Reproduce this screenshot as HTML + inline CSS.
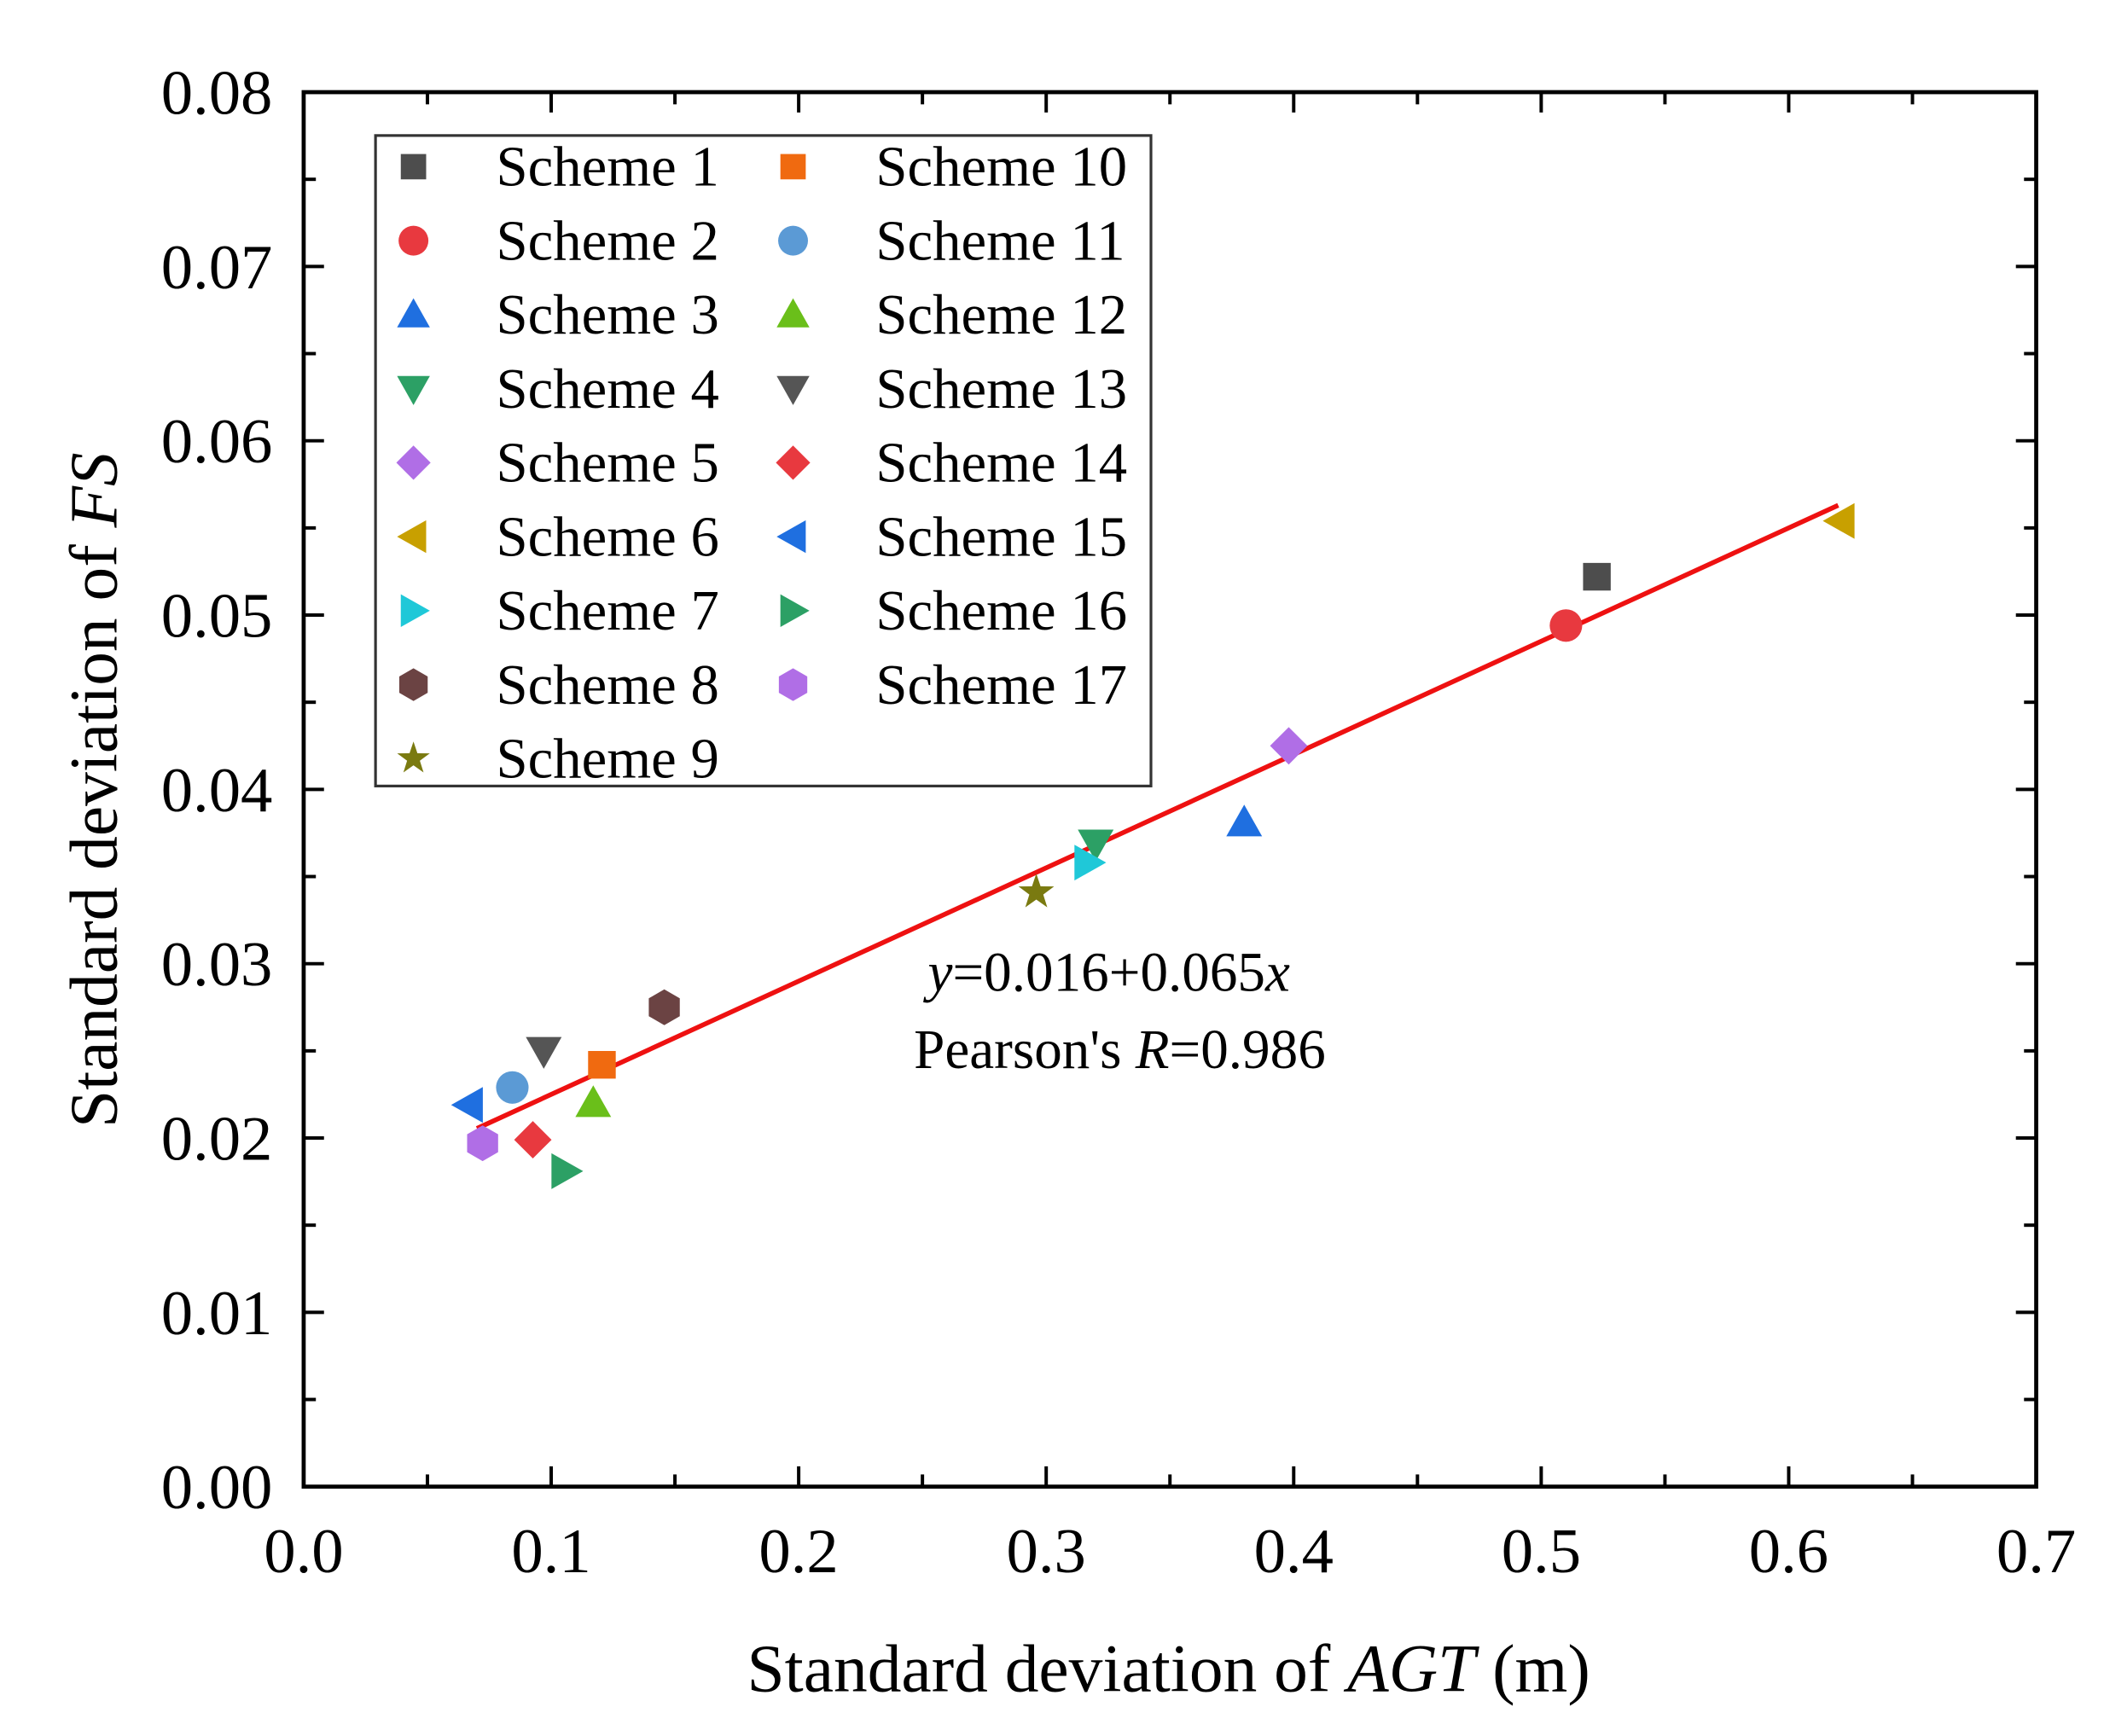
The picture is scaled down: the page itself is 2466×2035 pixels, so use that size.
<!DOCTYPE html>
<html><head><meta charset="utf-8"><style>
html,body{margin:0;padding:0;background:#fff;}
svg{display:block;font-family:"Liberation Serif",serif;}
</style></head><body>
<svg id="chart" width="2466" height="2035" viewBox="0 0 1552 1281" preserveAspectRatio="none" xmlns="http://www.w3.org/2000/svg">
<g id="axes"></g>
<g id="marks"></g>
<g id="legend"></g>
</svg>
<script>
const schemes = ["Scheme 1","Scheme 2","Scheme 3","Scheme 4","Scheme 5","Scheme 6","Scheme 7","Scheme 8","Scheme 9","Scheme 10","Scheme 11","Scheme 12","Scheme 13","Scheme 14","Scheme 15","Scheme 16","Scheme 17"];
const xVals = [0.5225,0.510,0.380,0.320,0.398,0.621,0.317,0.1457,0.296,0.1205,0.0843,0.117,0.097,0.0926,0.0668,0.1057,0.0723];
const yVals = [0.0522,0.0494,0.0381,0.0369,0.0425,0.0554,0.0358,0.0275,0.0341,0.0242,0.0229,0.0220,0.0250,0.0199,0.0219,0.0181,0.0197];
const colors = ["#4d4d4d","#e8393f","#1f6fe0","#2ca065","#b06ee6","#c8a000","#1fc8d8","#6b4343","#7a7a10","#f06a10","#5b9ad5","#6abf1a","#555555","#e8393f","#1f6fe0","#2ca065","#b06ee6"];
const shapes = ["square","circle","up","down","diamond","left","right","hex","star","square","circle","up","down","diamond","left","right","hex"];
const xTicks = [0,0.1,0.2,0.3,0.4,0.5,0.6,0.7];
const xTickLabels = ["0.0","0.1","0.2","0.3","0.4","0.5","0.6","0.7"];
const yTicks = [0,0.01,0.02,0.03,0.04,0.05,0.06,0.07,0.08];
const yTickLabels = ["0.00","0.01","0.02","0.03","0.04","0.05","0.06","0.07","0.08"];
const fitIntercept = 0.016, fitSlope = 0.065, fitRange = [0.07,0.62];

const L=224,R=1502,T=68,B=1097;
const sx=v=>L+(v-0)/(0.7)*(R-L);
const sy=v=>B-(v-0)/(0.08)*(B-T);
const NS="http://www.w3.org/2000/svg";
function mk(tag,attrs,parent){const e=document.createElementNS(NS,tag);for(const k in attrs)e.setAttribute(k,attrs[k]);parent.appendChild(e);return e;}
const axes=document.getElementById('axes'),marks=document.getElementById('marks'),legend=document.getElementById('legend');

const frame=mk('rect',{x:L,y:T,width:R-L,height:B-T,fill:'none',stroke:'#000','stroke-width':3},axes);


for(let i=0;i<xTicks.length;i++){
  const x=sx(xTicks[i]);
  mk('line',{x1:x,y1:B,x2:x,y2:B-15,stroke:'#000','stroke-width':2.5},axes);
  mk('line',{x1:x,y1:T,x2:x,y2:T+15,stroke:'#000','stroke-width':2.5},axes);
  if(i<xTicks.length-1){const xm=sx((xTicks[i]+xTicks[i+1])/2);
    mk('line',{x1:xm,y1:B,x2:xm,y2:B-9,stroke:'#000','stroke-width':2.5},axes);
    mk('line',{x1:xm,y1:T,x2:xm,y2:T+9,stroke:'#000','stroke-width':2.5},axes);}
  const t=mk('text',{x:x,y:1160,'font-size':47,'text-anchor':'middle'},axes);t.textContent=xTickLabels[i];
  
  
}
for(let i=0;i<yTicks.length;i++){
  const y=sy(yTicks[i]);
  mk('line',{x1:L,y1:y,x2:L+15,y2:y,stroke:'#000','stroke-width':2.5},axes);
  mk('line',{x1:R,y1:y,x2:R-15,y2:y,stroke:'#000','stroke-width':2.5},axes);
  if(i<yTicks.length-1){const ym=sy((yTicks[i]+yTicks[i+1])/2);
    mk('line',{x1:L,y1:ym,x2:L+9,y2:ym,stroke:'#000','stroke-width':2.5},axes);
    mk('line',{x1:R,y1:ym,x2:R-9,y2:ym,stroke:'#000','stroke-width':2.5},axes);}
  const t=mk('text',{x:201,y:y+16,'font-size':47,'text-anchor':'end'},axes);t.textContent=yTickLabels[i];
  
  
}
const xt=mk('text',{x:862,y:1248,'font-size':50,'text-anchor':'middle'},axes);
xt.innerHTML='Standard deviation of <tspan font-style="italic">AGT</tspan> (m)';


const yt=mk('text',{x:0,y:0,'font-size':50,'text-anchor':'middle',transform:'translate(86,583) rotate(-90)'},axes);
yt.innerHTML='Standard deviation of <tspan font-style="italic">FS</tspan>';



function marker(shape,cx,cy,s,color,parent){
  let e;
  if(shape==='square')e=mk('rect',{x:cx-s*0.85,y:cy-s*0.85,width:s*1.7,height:s*1.7,fill:color},parent);
  else if(shape==='circle')e=mk('circle',{cx:cx,cy:cy,r:s,fill:color},parent);
  else{
    let pts=[];
    if(shape==='up')pts=[[0,-1.1],[1.1,0.85],[-1.1,0.85]];
    else if(shape==='down')pts=[[0,1.1],[1.1,-0.85],[-1.1,-0.85]];
    else if(shape==='left')pts=[[-1.1,0],[0.85,-1.1],[0.85,1.1]];
    else if(shape==='right')pts=[[1.1,0],[-0.85,-1.1],[-0.85,1.1]];
    else if(shape==='diamond')pts=[[0,-1.15],[1.15,0],[0,1.15],[-1.15,0]];
    else if(shape==='hex'){for(let k=0;k<6;k++){const a=Math.PI/6+k*Math.PI/3;pts.push([Math.cos(a)*1.1,Math.sin(a)*1.1]);}}
    else if(shape==='star'){for(let k=0;k<10;k++){const a=-Math.PI/2+k*Math.PI/5;const r=k%2?0.45:1.15;pts.push([Math.cos(a)*r,Math.sin(a)*r]);}}
    e=mk('polygon',{points:pts.map(p=>(cx+p[0]*s)+','+(cy+p[1]*s)).join(' '),fill:color},parent);
  }
  return e;
}
const fit=mk('line',{x1:sx(fitRange[0]),y1:sy(fitIntercept+fitSlope*fitRange[0]),x2:sx(fitRange[1]),y2:sy(fitIntercept+fitSlope*fitRange[1]),stroke:'#ee1111','stroke-width':3.5},marks);


for(let i=0;i<schemes.length;i++){
  const m=marker(shapes[i],sx(xVals[i]),sy(yVals[i]),12,colors[i],marks);
  
  
}
const a1=mk('text',{x:818,y:731,'font-size':41,'text-anchor':'middle'},marks);
a1.innerHTML='<tspan font-style="italic">y</tspan>=0.016+0.065<tspan font-style="italic">x</tspan>';


const a2=mk('text',{x:826,y:788,'font-size':41,'text-anchor':'middle'},marks);
a2.innerHTML='Pearson\'s <tspan font-style="italic">R</tspan>=0.986';


const lb=mk('rect',{x:277,y:100,width:572,height:480,fill:'#fff',stroke:'#333','stroke-width':2},legend);


for(let i=0;i<schemes.length;i++){
  const col=i<9?0:1,row=i<9?i:i-9;
  const y=123+row*54.6;
  const g=mk('g',{},legend);
  
  
  marker(shapes[i],col?585:305,y,11,colors[i],g);
  const t=mk('text',{x:col?646:366,y:y+14,'font-size':42},g);t.textContent=schemes[i];
}
</script>
</body></html>
